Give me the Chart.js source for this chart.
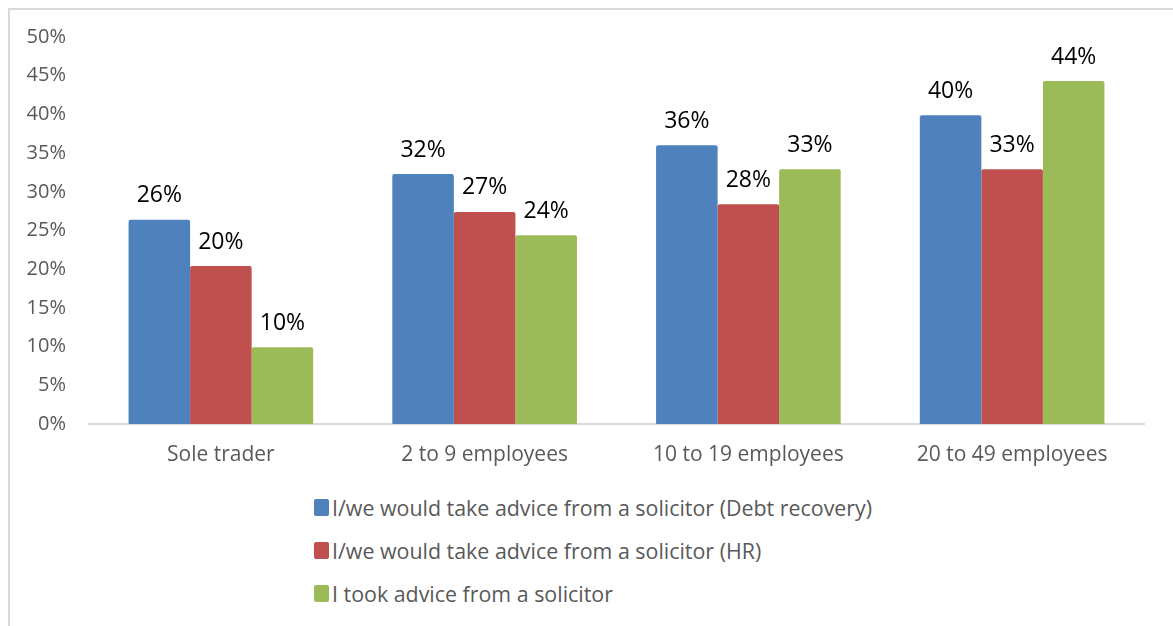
<!DOCTYPE html>
<html>
<head>
<meta charset="utf-8">
<script src="https://cdn.jsdelivr.net/npm/chart.js@4.4.0/dist/chart.umd.min.js"></script>
<style>
  body { margin: 0; background: #fff; font-family: "Open Sans", sans-serif; }
  #frame { position: absolute; left: 8px; top: 8px; width: 1300px; height: 700px; border: 2px solid #d9d9d9; box-sizing: border-box; }
  #wrap { position: absolute; left: 0; top: 0; width: 1173px; height: 480px; }
  #legend { position: absolute; left: 314px; top: 486px; }
  .item { display: flex; align-items: center; height: 43px; color: #595959; font-size: 21.4px; white-space: nowrap; }
  .sw { width: 15px; height: 17px; border-radius: 2px; margin-right: 3px; }
</style>
</head>
<body>
<div id="frame"></div>
<div id="wrap"><canvas id="chart"></canvas></div>
<div id="legend"></div>
<script>
// categories and series
const categories = ["Sole trader", "2 to 9 employees", "10 to 19 employees", "20 to 49 employees"];
const series_names = [
  "I/we would take advice from a solicitor (Debt recovery)",
  "I/we would take advice from a solicitor (HR)",
  "I took advice from a solicitor"
];
const debt_recovery = [26.4, 32.3, 36.0, 39.9];
const hr_advice = [20.4, 27.4, 28.4, 32.9];
const took_advice = [9.9, 24.4, 32.9, 44.3];
const colors = ["#4F81BD", "#C0504D", "#9BBB59"];

// draws the % labels above each bar
const barLabels = {
  id: "barLabels",
  afterDatasetsDraw(chart) {
    const ctx = chart.ctx;
    ctx.save();
    ctx.font = "23px 'Open Sans'";
    ctx.fillStyle = "#000";
    ctx.textAlign = "center";
    ctx.textBaseline = "middle";
    chart.data.datasets.forEach((ds, i) => {
      chart.getDatasetMeta(i).data.forEach((bar, j) => {
        ctx.fillText(Math.round(ds.data[j]) + "%", bar.x, bar.y - 24);
      });
    });
    ctx.restore();
  }
};

const allSeries = [debt_recovery, hr_advice, took_advice];

const chart = new Chart(document.getElementById("chart"), {
  type: "bar",
  data: {
    labels: categories,
    datasets: allSeries.map((d, i) => ({
      label: series_names[i],
      data: d,
      backgroundColor: colors[i],
      borderRadius: 2,
      borderSkipped: "bottom",
      categoryPercentage: 0.7,
      barPercentage: 1.0
    }))
  },
  options: {
    responsive: true,
    maintainAspectRatio: false,
    animation: false,
    layout: { padding: { top: 37, right: 29, left: 0, bottom: 0 } },
    plugins: { legend: { display: false }, tooltip: { enabled: false } },
    scales: {
      x: {
        grid: { display: false, drawTicks: false },
        border: { display: true, color: "#d9d9d9", width: 2 },
        ticks: { color: "#595959", font: { family: "Open Sans", size: 21 }, padding: 18 },
        afterFit(axis) { axis.height = 56; }
      },
      y: {
        min: 0, max: 50,
        grid: { display: false, drawTicks: false },
        border: { display: false },
        ticks: {
          stepSize: 5,
          color: "#595959",
          font: { family: "Open Sans", size: 20 },
          padding: 23,
          callback: v => v + "%"
        },
        afterFit(axis) { axis.width = 89; }
      }
    }
  },
  plugins: [barLabels]
});

// legend as a vertical list
const legend = document.getElementById("legend");
series_names.forEach((name, i) => {
  const row = document.createElement("div");
  row.className = "item";
  row.innerHTML = '<span class="sw" style="background:' + colors[i] + '"></span>' + name;
  legend.appendChild(row);
});
</script>
</body>
</html>
